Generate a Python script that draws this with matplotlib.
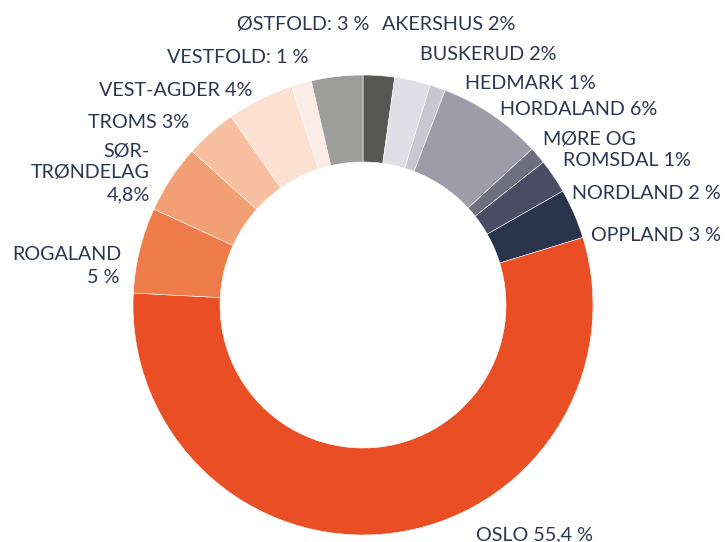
import matplotlib
matplotlib.use("Agg")
import matplotlib.pyplot as plt

# ---- data ----
regions = ["AKERSHUS", "BUSKERUD", "HEDMARK", "HORDALAND", "MØRE OG ROMSDAL",
           "NORDLAND", "OPPLAND", "OSLO", "ROGALAND", "SØR-TRØNDELAG",
           "TROMS", "VEST-AGDER", "VESTFOLD", "ØSTFOLD"]
values = [2.2, 2.5, 1.1, 7.3, 1.2, 2.4, 3.5, 55.4, 6.0, 4.8, 3.6, 4.7, 1.4, 3.6]
colors = ["#575754", "#e0dfe5", "#c9c8d0", "#9e9ca8", "#6f6e7f", "#4a4c63",
          "#2b344d", "#e94e24", "#ef7a4a", "#f39f76", "#f8bfa0", "#fce0d2",
          "#fdece6", "#9d9d9b"]

# label lines: (text, x, baseline_y (image px from top), ha)
label_lines = [
    ("ØSTFOLD: 3 %", 369, 30, "right"),
    ("AKERSHUS 2%", 382, 30, "left"),
    ("VESTFOLD: 1 %", 308, 63, "right"),
    ("BUSKERUD 2%", 420, 60, "left"),
    ("HEDMARK 1%", 465, 89, "left"),
    ("VEST-AGDER 4%", 252, 96, "right"),
    ("HORDALAND 6%", 500, 115, "left"),
    ("TROMS 3%", 189, 128, "right"),
    ("MØRE OG", 543, 145, "left"),
    ("ROMSDAL 1%", 563, 166, "left"),
    ("SØR-", 150, 157, "right"),
    ("TRØNDELAG", 150, 178, "right"),
    ("4,8%", 150, 200, "right"),
    ("NORDLAND 2 %", 572, 199, "left"),
    ("OPPLAND 3 %", 591, 241, "left"),
    ("ROGALAND", 122, 260, "right"),
    ("5 %", 119, 283, "right"),
    ("OSLO 55,4 %", 476, 540, "left"),
]

W, H = 725, 542
fig = plt.figure(figsize=(W / 100, H / 100), dpi=100)
ax = fig.add_axes([0, 0, 1, 1])

cx, cy, r_out, r_in = 363, H - 305, 230, 143
ax.pie(values, colors=colors, startangle=90, counterclock=False,
       center=(cx, cy), radius=r_out,
       wedgeprops=dict(width=r_out - r_in, edgecolor="white", linewidth=0.4))

ax.set_xlim(0, W)
ax.set_ylim(0, H)
ax.set_aspect("equal")
ax.axis("off")

for txt, x, y, ha in label_lines:
    ax.text(x, H - y, txt, ha=ha, va="baseline", fontsize=14.2,
            family=["Lato", "DejaVu Sans"], color="#2d3650")

fig.savefig("out.png", dpi=100)
